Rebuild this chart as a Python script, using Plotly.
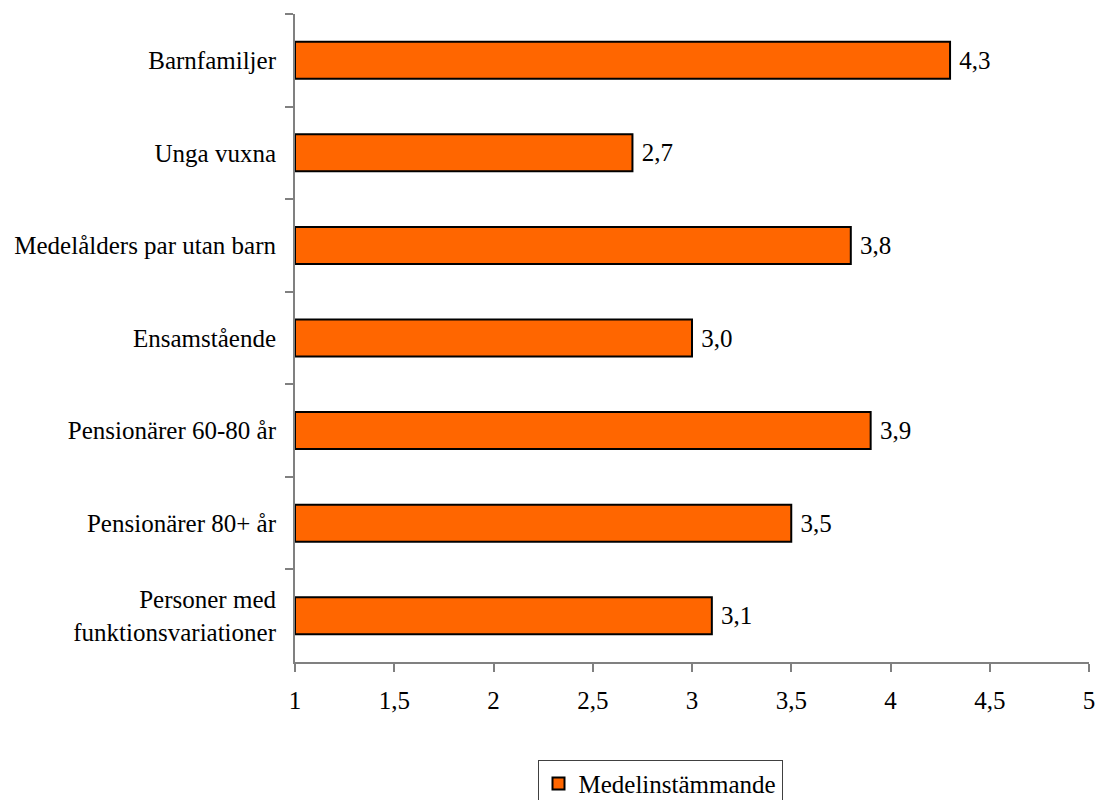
import plotly.graph_objects as go

categories = ["Barnfamiljer", "Unga vuxna", "Medelålders par utan barn", "Ensamstående",
              "Pensionärer 60-80 år", "Pensionärer 80+ år", "Personer med<br>funktionsvariationer"]
values = [4.3, 2.7, 3.8, 3.0, 3.9, 3.5, 3.1]
labels = ["4,3", "2,7", "3,8", "3,0", "3,9", "3,5", "3,1"]
series_name = "Medelinstämmande"
x_ticks = [1, 1.5, 2, 2.5, 3, 3.5, 4, 4.5, 5]
x_base = 1

FONT = "Liberation Serif"
FS = 25

fig = go.Figure(go.Bar(
    y=categories, x=[v - x_base for v in values], base=x_base, orientation="h", name=series_name,
    marker=dict(color="#FF6600", line=dict(color="black", width=2)),
    text=["\u00a0" + t for t in labels], textposition="outside",
    textfont=dict(family=FONT, size=FS, color="black"),
    cliponaxis=False, width=0.4, showlegend=True,
))

fig.update_layout(
    width=1095, height=800,
    margin=dict(l=295, r=6, t=14, b=138, autoexpand=False),
    paper_bgcolor="white", plot_bgcolor="white",
    font=dict(family=FONT, size=FS, color="black"),
    separators=", ",
    showlegend=True,
    legend=dict(orientation="h", x=0.4597, xanchor="center", y=-0.151, yanchor="top",
                bordercolor="#404040", borderwidth=1, font=dict(family=FONT, size=FS),
                itemwidth=30),
    xaxis=dict(range=[1, 5], tickvals=x_ticks, showgrid=False, zeroline=False,
               showline=True, linecolor="#808080", linewidth=2, automargin=False,
               ticks="outside", ticklen=8, tickcolor="#808080", tickwidth=2,
               ticklabelstandoff=7, ticklabeloverflow="allow"),
    yaxis=dict(autorange="reversed", type="category", showgrid=False, zeroline=False,
               showline=True, linecolor="#808080", linewidth=2, automargin=False,
               ticks="outside", ticklen=8, tickcolor="#808080", tickwidth=2,
               tickson="boundaries", ticklabelstandoff=12),
)

fig.write_html("out.html", config={"displayModeBar": False},
               post_script="document.body.style.margin='0';document.body.style.overflow='hidden';")
